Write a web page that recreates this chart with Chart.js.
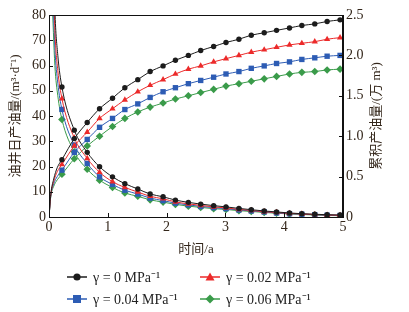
<!DOCTYPE html>
<html>
<head>
<meta charset="utf-8">
<script src="https://cdn.jsdelivr.net/npm/chart.js@4.4.1/dist/chart.umd.min.js"></script>
<style>
  html, body { margin: 0; padding: 0; background: #fff; }
  #wrap { position: relative; width: 409px; height: 312px; }
  #legend { position: absolute; left: 0; top: 0; width: 409px; height: 312px; pointer-events: none;
            font-family: 'Liberation Serif', 'Noto Sans CJK SC', serif; font-size: 14px; color: #222; }
  .item { position: absolute; display: flex; align-items: center; white-space: nowrap; }
  .item svg { margin-right: 6px; }
</style>
</head>
<body>
<div id="wrap">
  <canvas id="chart" width="409" height="312"></canvas>
  <div id="legend"></div>
</div>
<script>
// time (a) at the marked points
const years = [0.22, 0.43, 0.65, 0.86, 1.08, 1.29, 1.51, 1.72, 1.94, 2.15, 2.37, 2.58,
               2.80, 3.01, 3.23, 3.44, 3.66, 3.87, 4.09, 4.30, 4.52, 4.73, 4.95];
// unmarked early points so the curves start where the picture does
const rateEarlyYears = [0.05, 0.10, 0.15];
const cumEarlyYears = [0, 0.03, 0.08, 0.14];

const labels = ['γ = 0 MPa⁻¹', 'γ = 0.02 MPa⁻¹', 'γ = 0.04 MPa⁻¹', 'γ = 0.06 MPa⁻¹'];
const colors = ['#1c1c1c', '#ec2a2a', '#2d5cb4', '#3a9b4a'];
const markers = ['circle', 'triangle', 'rect', 'rectRot'];
const markerRadius = [2.7, 3.6, 3.8, 3.8];

// daily oil rate, m3/d (left axis)
const rateEarly0 = [130, 82, 64];
const rateEarly1 = [115, 74, 58];
const rateEarly2 = [100, 67, 53];
const rateEarly3 = [88, 60, 48];
const rate0 = [51.5, 34.4, 25.6, 19.9, 15.9, 13.2, 11.1, 9.1, 8.0, 6.7, 5.8, 5.1, 4.5, 4.0, 3.4, 2.9, 2.4, 2.0, 1.6, 1.3, 1.1, 0.9, 0.8];
const rate1 = [46.9, 31.3, 23.2, 17.7, 14.0, 11.7, 9.9, 8.2, 7.2, 6.0, 5.2, 4.6, 4.0, 3.6, 3.0, 2.6, 2.1, 1.8, 1.4, 1.2, 1.0, 0.8, 0.7];
const rate2 = [42.6, 28.5, 21.2, 15.9, 12.9, 10.6, 9.1, 7.5, 6.5, 5.5, 4.8, 4.2, 3.7, 3.3, 2.8, 2.4, 2.0, 1.6, 1.3, 1.1, 0.9, 0.7, 0.6];
const rate3 = [38.6, 25.8, 18.9, 14.6, 11.7, 9.5, 8.2, 6.8, 5.9, 5.0, 4.3, 3.8, 3.3, 3.0, 2.5, 2.2, 1.8, 1.5, 1.2, 1.0, 0.8, 0.6, 0.5];

// cumulative oil, 10^4 m3 (right axis)
const cumEarly0 = [0, 0.28, 0.47, 0.61];
const cumEarly1 = [0, 0.27, 0.44, 0.56];
const cumEarly2 = [0, 0.26, 0.41, 0.50];
const cumEarly3 = [0, 0.25, 0.38, 0.46];
const cum0 = [0.71, 0.97, 1.17, 1.34, 1.47, 1.60, 1.70, 1.80, 1.87, 1.94, 2.00, 2.06, 2.11, 2.16, 2.20, 2.25, 2.28, 2.31, 2.34, 2.37, 2.39, 2.42, 2.44];
const cum1 = [0.65, 0.88, 1.05, 1.22, 1.34, 1.45, 1.55, 1.63, 1.70, 1.77, 1.83, 1.87, 1.92, 1.96, 2.00, 2.04, 2.07, 2.10, 2.13, 2.15, 2.17, 2.20, 2.22];
const cum2 = [0.58, 0.80, 0.96, 1.11, 1.22, 1.33, 1.40, 1.48, 1.55, 1.60, 1.65, 1.69, 1.73, 1.77, 1.80, 1.84, 1.87, 1.90, 1.92, 1.95, 1.97, 1.99, 2.00];
const cum3 = [0.53, 0.72, 0.88, 1.00, 1.12, 1.22, 1.30, 1.36, 1.41, 1.46, 1.50, 1.54, 1.58, 1.62, 1.65, 1.68, 1.71, 1.74, 1.77, 1.79, 1.80, 1.82, 1.83];

const rates = [[rateEarly0, rate0], [rateEarly1, rate1], [rateEarly2, rate2], [rateEarly3, rate3]];
const cums = [[cumEarly0, cum0], [cumEarly1, cum1], [cumEarly2, cum2], [cumEarly3, cum3]];

const textColor = '#33261a';
const serif = "'Liberation Serif', 'Noto Sans CJK SC', serif";

function points(earlyX, earlyY, ys) {
    const pts = earlyX.map((x, i) => ({ x: x, y: earlyY[i], m: false }));
    return pts.concat(years.map((x, i) => ({ x: x, y: ys[i], m: true })));
}

const datasets = [];
for (let i = 0; i < 4; i++) {
    const common = {
        borderColor: colors[i],
        backgroundColor: colors[i],
        borderWidth: 1,
        pointStyle: markers[i],
        pointRadius: c => (c.raw && c.raw.m ? markerRadius[i] : 0),
        pointBorderWidth: 0,
        showLine: true,
        cubicInterpolationMode: 'monotone',
        label: labels[i]
    };
    datasets.push(Object.assign({}, common, { data: points(rateEarlyYears, rates[i][0], rates[i][1]), yAxisID: 'y' }));
    datasets.push(Object.assign({}, common, { data: points(cumEarlyYears, cums[i][0], cums[i][1]), yAxisID: 'y2' }));
}

// frame, inward ticks and the right axis title
const extras = {
    id: 'extras',
    afterDraw(chart) {
        const { ctx, chartArea: a, scales } = chart;
        ctx.save();
        ctx.strokeStyle = '#111';
        ctx.lineWidth = 1;
        ctx.strokeRect(a.left + 0.5, a.top + 0.5, a.right - a.left - 1, a.bottom - a.top);
        ctx.beginPath();
        scales.x.ticks.forEach(t => {
            const px = Math.round(scales.x.getPixelForValue(t.value)) + 0.5;
            ctx.moveTo(px, a.bottom); ctx.lineTo(px, a.bottom - 4);
        });
        scales.y.ticks.forEach(t => {
            const py = Math.round(scales.y.getPixelForValue(t.value)) + 0.5;
            ctx.moveTo(a.left, py); ctx.lineTo(a.left + 4, py);
        });
        scales.y2.ticks.forEach(t => {
            const py = Math.round(scales.y2.getPixelForValue(t.value)) + 0.5;
            ctx.moveTo(a.right, py); ctx.lineTo(a.right - 4, py);
        });
        ctx.stroke();
        ctx.translate(377, (a.top + a.bottom) / 2);
        ctx.rotate(-Math.PI / 2);
        ctx.fillStyle = textColor;
        ctx.font = '13px ' + serif;
        ctx.textAlign = 'center';
        ctx.textBaseline = 'middle';
        ctx.fillText('累积产油量/(万 m³)', 0, 0);
        ctx.restore();
    }
};

new Chart(document.getElementById('chart').getContext('2d'), {
    type: 'scatter',
    data: { datasets: datasets },
    options: {
        responsive: false,
        animation: false,
        layout: { padding: { top: 15, bottom: 51, left: 8, right: 0 } },
        plugins: { legend: { display: false }, tooltip: { enabled: false } },
        scales: {
            x: {
                type: 'linear', min: 0, max: 5,
                ticks: { stepSize: 1, color: textColor, font: { family: serif, size: 14 }, padding: 2 },
                grid: { display: false, drawTicks: false },
                border: { display: true, color: '#111' },
                title: { display: true, text: '时间/a', color: textColor, font: { family: serif, size: 13 }, padding: { top: 4 } },
                afterFit: s => { s.height = 44; }
            },
            y: {
                position: 'left', min: 0, max: 80,
                ticks: { stepSize: 10, color: textColor, font: { family: serif, size: 14 }, padding: 3 },
                grid: { display: false, drawTicks: false },
                border: { display: true, color: '#111' },
                title: { display: true, text: '油井日产油量/(m³·d⁻¹)', color: textColor, font: { family: serif, size: 13 }, padding: 0 },
                afterFit: s => { s.width = 41; }
            },
            y2: {
                position: 'right', min: 0, max: 2.5,
                ticks: { stepSize: 0.5, color: textColor, font: { family: serif, size: 14 }, padding: 3,
                         callback: v => (v === 0 ? '0' : v.toFixed(1)) },
                grid: { display: false, drawTicks: false },
                border: { display: true, color: '#111' },
                afterFit: s => { s.width = 66; }
            }
        }
    },
    plugins: [extras]
});

// legend, two columns like the figure
function icon(color, shape) {
    let m = '';
    if (shape === 'circle') m = `<circle cx="10" cy="7" r="3.6" fill="${color}"/>`;
    if (shape === 'triangle') m = `<polygon points="10,2.5 14.5,10.5 5.5,10.5" fill="${color}"/>`;
    if (shape === 'rect') m = `<rect x="6" y="3" width="8" height="8" fill="${color}"/>`;
    if (shape === 'rectRot') m = `<polygon points="10,2.5 14.5,7 10,11.5 5.5,7" fill="${color}"/>`;
    return `<svg width="20" height="14"><line x1="0" y1="7" x2="20" y2="7" stroke="${color}" stroke-width="1.5"/>${m}</svg>`;
}
const legendPos = [[67, 267], [200, 267], [67, 289], [200, 289]];
const legendEl = document.getElementById('legend');
labels.forEach((t, i) => {
    const d = document.createElement('div');
    d.className = 'item';
    d.style.left = legendPos[i][0] + 'px';
    d.style.top = legendPos[i][1] + 'px';
    d.innerHTML = icon(colors[i], markers[i]) + '<span>' + t + '</span>';
    legendEl.appendChild(d);
});
</script>
</body>
</html>
